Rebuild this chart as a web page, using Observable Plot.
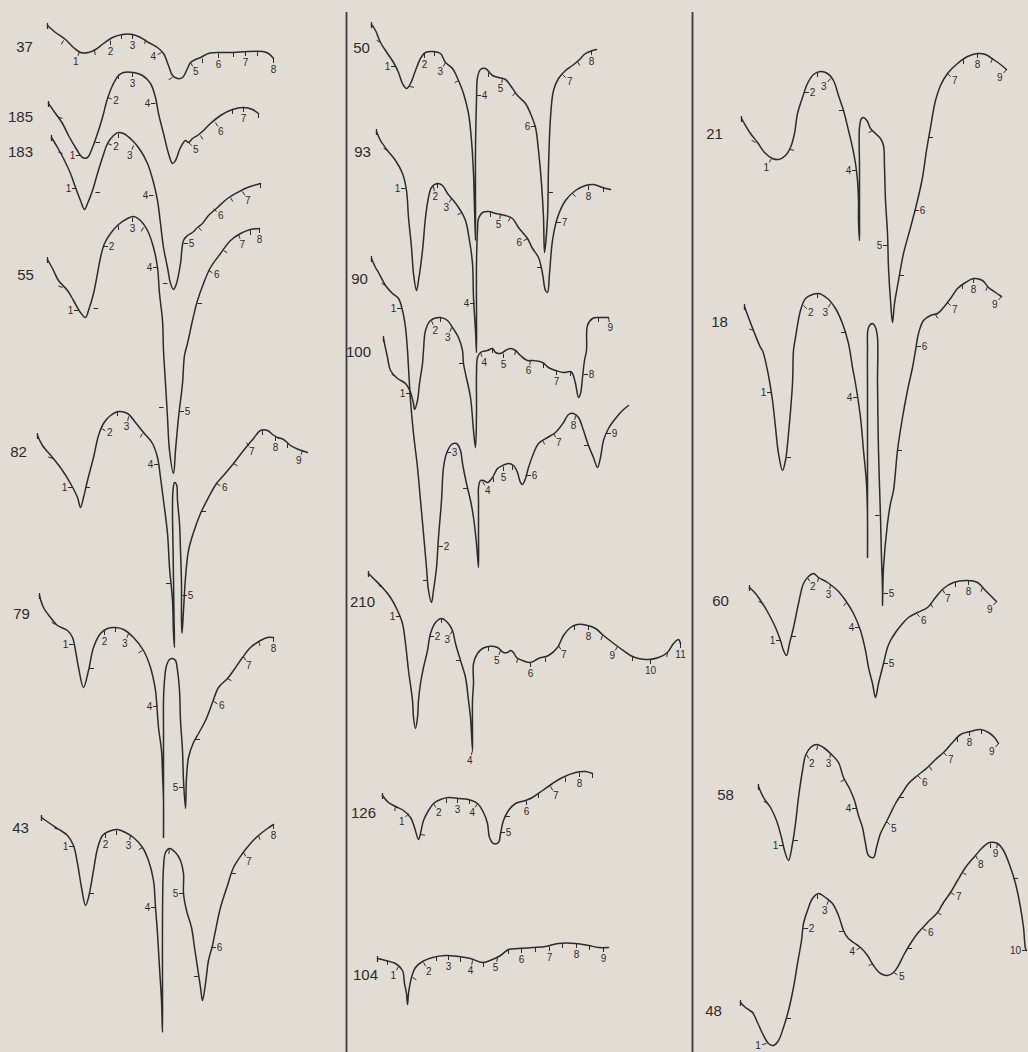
<!DOCTYPE html>
<html><head><meta charset="utf-8">
<script src="https://cdn.jsdelivr.net/npm/d3@7"></script>
<script src="https://cdn.jsdelivr.net/npm/@observablehq/plot@0.6"></script>
<style>html,body{margin:0;padding:0;background:#e1ddd5;}</style>
</head><body><div id="chart"></div>
<script>
// ---- Column 1 ----
const c37 = [[47,25],[55,32],[65,39],[73,47],[80,52],[88,52],[95,49],[103,43],[112,37],[122,34],[132,34],[140,37],[148,42],[157,47],[163,53],[168,65],[172,75],[177,78],[182,77],[187,68],[190,62],[195,59],[200,57],[208,53],[220,52],[233,52],[247,51],[262,51],[268,53],[273,58]];
const t37 = [[63,40,120,""],[79,51,110,"1"],[94,50,80,""],[110,40,90,"2"],[121,34,90,""],[132,34,90,"3"],[145,39,100,""],[161,52,150,"4"],[172,77,150,""],[190,62,60,"5"],[202,58,90,""],[218,53,90,"6"],[233,52,90,""],[245,51,90,"7"],[257,51,90,""],[273,58,90,"8"]];
const c185 = [[48,103],[55,113],[62,123],[68,135],[75,147],[82,157],[87,157],[92,147],[97,133],[102,117],[107,98],[112,85],[118,75],[123,72],[133,72],[142,75],[150,83],[155,97],[158,113],[163,133],[168,153],[172,163],[175,160],[180,147],[185,140],[188,142],[192,138],[197,135],[203,130],[210,123],[220,115],[232,109],[243,107],[252,109],[258,113]];
const t185 = [[62,118,200,""],[80,155,180,"1"],[95,142,0,""],[107,97,20,"2"],[118,74,90,""],[132,72,90,"3"],[155,103,180,"4"],[188,142,45,"5"],[200,135,60,""],[215,122,60,"6"],[232,109,90,""],[243,107,90,"7"],[258,113,90,""]];
const c183 = [[51,137],[57,147],[63,158],[70,173],[75,187],[80,200],[84,209],[87,203],[92,190],[97,173],[102,157],[107,143],[113,135],[118,132],[123,133],[132,140],[140,150],[147,163],[153,182],[157,200],[160,223],[163,247],[167,267],[170,283],[173,289],[176,283],[180,263],[183,240],[187,235],[192,232],[197,227],[202,223],[208,215],[217,207],[227,198],[237,192],[247,187],[260,183]];
const t183 = [[62,153,200,""],[76,188,180,"1"],[95,192,0,""],[107,143,20,"2"],[118,133,90,""],[133,145,110,"3"],[153,195,180,"4"],[167,283,180,""],[183,243,0,"5"],[198,227,45,""],[213,208,45,"6"],[230,197,60,""],[242,191,60,"7"],[260,183,90,""]];
const c55 = [[47,259],[52,268],[58,280],[67,290],[73,300],[80,312],[85,317],[88,310],[93,293],[97,273],[100,257],[104,243],[110,233],[118,224],[127,218],[133,216],[140,220],[147,230],[153,247],[157,267],[159,293],[162,320],[163,350],[165,383],[167,417],[169,450],[173,473],[175,450],[178,417],[182,383],[184,355],[187,343],[192,320],[197,300],[203,283],[210,267],[220,253],[230,240],[240,233],[250,229],[259,228]];
const t55 = [[62,287,200,""],[78,310,180,"1"],[93,308,0,""],[103,246,0,"2"],[118,225,90,""],[132,217,90,"3"],[143,227,120,""],[157,267,180,"4"],[163,407,180,""],[179,411,0,"5"],[197,303,0,""],[208,270,30,"6"],[223,250,30,""],[238,234,70,"7"],[250,230,90,""],[259,228,90,"8"]];
const c82 = [[37,435],[42,445],[52,457],[62,470],[70,483],[77,497],[80,507],[83,497],[87,480],[93,457],[98,435],[103,423],[110,415],[118,411],[127,413],[135,422],[143,432],[152,443],[157,457],[160,477],[163,500],[167,533],[169,567],[172,600],[173,633],[174,647],[173.5,615],[173,580],[172.5,545],[172,510],[172.5,490],[174,482],[176,484],[177,500],[179,523],[180,550],[181,583],[181,620],[181.5,633],[183,610],[185,577],[188,550],[193,532],[200,513],[208,497],[216,483],[223,475],[233,463],[243,450],[253,438],[260,430],[267,430],[272,434],[277,437],[283,439],[290,445],[298,449],[307,452]];
const t82 = [[52,458,200,""],[72,487,180,"1"],[85,487,0,""],[101,428,30,"2"],[117,411,90,""],[128,416,100,"3"],[142,433,120,""],[158,464,180,"4"],[170,583,180,""],[182,595,0,"5"],[201,511,0,""],[216,483,30,"6"],[233,463,30,""],[246,442,60,"7"],[262,430,90,""],[275,436,90,"8"],[287,443,90,""],[302,450,110,"9"]];
const c79 = [[39,595],[43,607],[50,617],[57,625],[67,630],[72,637],[75,650],[78,667],[83,687],[88,670],[93,647],[100,633],[107,628],[115,627],[123,629],[133,637],[143,650],[150,667],[155,690],[156,700],[158,727],[161,750],[162,773],[163,800],[163,837],[163,790],[163,760],[163,730],[163,700],[164,680],[166,665],[169,659],[172,658],[175,660],[177,670],[179,690],[180,720],[182,750],[183,780],[185,808],[186,777],[188,757],[193,742],[198,733],[205,720],[212,702],[218,687],[227,678],[233,670],[242,657],[250,647],[260,640],[267,637],[273,637]];
const t79 = [[55,624,210,""],[73,644,180,"1"],[89,668,0,""],[104,630,90,"2"],[115,627,90,""],[128,633,110,"3"],[142,650,150,""],[157,706,180,"4"],[183,787,180,"5"],[195,739,0,""],[213,701,30,"6"],[227,678,30,""],[243,656,60,"7"],[258,641,70,""],[273,637,90,"8"]];
const c43 = [[41,817],[48,822],[57,828],[67,835],[73,845],[77,863],[81,887],[85,905],[88,897],[93,870],[97,848],[102,835],[108,831],[117,829],[125,832],[133,837],[142,847],[148,860],[153,880],[155,907],[157,933],[159,967],[161,1000],[162,1032],[162,983],[162,917],[163,867],[165,852],[169,848],[175,852],[180,860],[183,873],[183,893],[186,910],[191,927],[194,947],[197,967],[200,987],[202,1000],[205,983],[208,960],[212,945],[215,930],[220,907],[227,885],[233,867],[242,853],[250,843],[258,835],[267,828],[273,824]];
const t43 = [[58,829,200,""],[73,846,180,"1"],[89,893,0,""],[105,833,90,"2"],[116,830,90,""],[130,835,100,"3"],[142,847,150,""],[155,907,180,"4"],[169,849,100,""],[183,893,180,"5"],[198,976,180,""],[211,947,0,"6"],[231,873,0,""],[243,852,60,"7"],[258,835,70,""],[273,824,90,"8"]];
// ---- Column 2 ----
const c50 = [[371,24],[375,30],[380,42],[387,53],[393,62],[398,72],[402,83],[406,88],[410,83],[415,70],[420,58],[425,52],[433,51],[440,53],[445,62],[452,68],[458,80],[463,93],[468,113],[471,140],[473,173],[474,207],[475,240],[475,207],[475,150],[476,100],[477,77],[480,69],[485,68],[489,72],[492,75],[498,77],[505,79],[510,85],[517,95],[525,103],[530,113],[535,127],[538,150],[541,183],[543,217],[544,252],[547,217],[548,167],[550,117],[553,90],[558,78],[565,70],[572,65],[578,60],[585,53],[592,50],[596,49]];
const t50 = [[380,42,210,""],[395,66,180,"1"],[409,86,10,""],[424,53,90,"2"],[434,51,90,""],[445,62,120,"3"],[458,80,150,""],[476,95,0,"4"],[488,72,90,""],[502,78,100,"5"],[515,92,130,""],[535,126,180,"6"],[548,192,0,""],[562,74,45,"7"],[577,61,60,""],[591,50,90,"8"]];
const c93 = [[376,131],[380,140],[387,150],[395,160],[402,173],[406,190],[408,217],[411,247],[413,273],[416,290],[418,280],[422,250],[425,217],[428,197],[431,187],[437,183],[442,185],[447,193],[453,200],[460,210],[465,220],[469,240],[472,263],[473,297],[475,330],[476,352],[476,313],[476,263],[477,230],[478,218],[482,212],[488,211],[495,213],[505,215],[512,218],[518,227],[527,238],[532,248],[538,257],[542,273],[545,290],[547,292],[549,273],[552,240],[557,217],[565,200],[575,190],[585,185],[593,184],[602,187],[610,189]];
const t93 = [[387,150,210,""],[405,188,180,"1"],[433,186,80,"2"],[437,183,90,""],[451,198,120,"3"],[461,212,150,""],[474,303,180,"4"],[490,212,90,""],[500,214,100,"5"],[510,217,120,""],[527,238,150,"6"],[541,267,180,""],[556,222,0,"7"],[572,193,45,""],[588,185,90,"8"],[603,187,90,""]];
const c90 = [[371,258],[375,267],[378,272],[385,285],[392,293],[398,298],[402,310],[405,327],[407,350],[408,367],[410,400],[413,433],[417,467],[420,500],[423,533],[426,567],[428,590],[431,602],[433,590],[436,567],[438,537],[441,500],[443,467],[446,453],[451,444],[456,443],[460,450],[462,463],[466,483],[470,500],[473,517],[476,543],[478,567],[478,533],[478,500],[478,487],[480,480],[483,480],[487,482],[492,477],[497,468],[502,465],[508,463],[513,465],[517,472],[520,482],[522,484],[525,478],[528,467],[533,453],[538,443],[547,437],[555,432],[563,422],[568,414],[573,413],[578,417],[583,430],[588,445],[593,457],[597,467],[600,457],[603,440],[608,428],[615,418],[622,410],[628,405]];
const t90 = [[385,285,210,""],[401,308,180,"1"],[427,580,180,""],[438,546,0,"2"],[446,452,0,"3"],[467,488,180,""],[482,481,60,"4"],[493,477,90,""],[503,466,90,"5"],[512,465,90,""],[526,475,0,"6"],[542,440,60,""],[553,433,60,"7"],[575,415,100,"8"],[588,445,180,""],[606,433,0,"9"]];
const c100 = [[383,338],[387,357],[390,370],[397,378],[405,383],[410,392],[413,403],[414,409],[417,400],[419,383],[422,363],[423,350],[425,330],[430,320],[440,317],[447,320],[452,327],[458,337],[462,350],[463,363],[470,397],[473,430],[475,447],[476,413],[476,373],[477,357],[480,352],[487,350],[492,348],[495,352],[500,353],[505,350],[510,348],[515,350],[520,355],[527,360],[532,360],[542,362],[548,367],[555,370],[563,372],[570,371],[572,373],[575,383],[578,397],[580,393],[582,377],[584,360],[586,350],[587,325],[592,318],[598,317],[608,317]];
const t100 = [[395,376,210,""],[410,393,180,"1"],[431,320,70,"2"],[440,317,90,""],[451,327,110,"3"],[463,363,180,""],[480,352,70,"4"],[492,348,90,""],[503,353,90,"5"],[515,350,100,""],[530,360,100,"6"],[543,363,90,""],[556,370,90,"7"],[570,371,90,""],[583,374,0,"8"],[598,317,90,""],[608,317,80,"9"]];
const c210 = [[368,573],[373,578],[382,587],[390,597],[397,610],[402,623],[405,643],[408,670],[412,700],[413,717],[415,728],[417,717],[418,700],[420,683],[423,667],[427,650],[430,633],[435,622],[441,618],[447,622],[452,630],[455,643],[460,660],[465,677],[468,700],[470,717],[472,750],[472,733],[472,700],[473,683],[473,663],[477,653],[482,648],[488,646],[497,647],[503,652],[507,652],[510,650],[513,652],[516,657],[522,660],[530,662],[538,658],[548,655],[557,647],[563,635],[570,627],[577,624],[587,625],[595,628],[603,635],[612,642],[620,648],[630,655],[638,658],[648,659],[658,657],[667,652],[673,643],[678,639],[680,643]];
const t210 = [[382,587,210,""],[400,616,180,"1"],[429,636,0,"2"],[441,618,90,""],[452,630,120,"3"],[460,660,180,""],[472,750,105,"4"],[488,646,90,""],[500,650,110,"5"],[517,658,100,""],[530,662,90,"6"],[545,657,90,""],[558,645,60,"7"],[574,625,90,""],[588,625,90,"8"],[602,635,110,""],[617,646,120,"9"],[632,656,90,""],[650,659,90,"10"],[667,652,100,""],[680,643,90,"11"]];
const c126 = [[382,795],[388,802],[395,806],[403,810],[410,817],[414,827],[418,839],[420,833],[423,820],[428,810],[433,803],[440,799],[448,797],[458,798],[468,799],[477,803],[483,812],[487,823],[489,837],[493,843],[498,842],[500,833],[503,820],[508,810],[515,803],[525,800],[532,797],[542,790],[552,783],[562,777],[575,772],[585,771],[592,773]];
const t126 = [[395,806,100,""],[408,813,130,"1"],[420,834,10,""],[433,803,60,"2"],[446,798,90,""],[457,798,90,"3"],[469,799,90,""],[477,803,120,"4"],[500,832,0,"5"],[505,816,0,""],[526,800,90,"6"],[538,793,90,""],[550,786,60,"7"],[565,777,90,""],[579,772,90,"8"],[592,773,90,""]];
const c104 = [[377,958],[385,960],[395,963],[402,970],[404,983],[406,993],[407,1004],[408,993],[411,977],[415,967],[422,961],[432,957],[445,955],[458,956],[470,958],[482,962],[492,959],[500,955],[508,949],[518,948],[532,947],[545,946],[558,943],[575,943],[588,945],[598,947],[608,947]];
const t104 = [[387,960,90,""],[398,966,120,"1"],[412,977,30,""],[423,962,60,"2"],[436,956,90,""],[448,955,90,"3"],[460,957,90,""],[472,960,100,"4"],[483,962,90,""],[497,957,100,"5"],[508,949,90,""],[521,948,90,"6"],[535,947,90,""],[549,946,90,"7"],[562,943,90,""],[576,943,90,"8"],[589,945,90,""],[603,947,90,"9"]];
// ---- Column 3 ----
const c21 = [[741,118],[745,125],[750,133],[757,142],[764,152],[772,158],[778,159],[785,155],[790,147],[794,133],[797,113],[802,97],[807,83],[813,74],[820,71],[827,73],[833,80],[838,95],[843,110],[848,130],[852,147],[855,163],[857,180],[858,200],[858,220],[859,240],[859,217],[859,167],[859,127],[861,118],[863,117],[867,121],[870,128],[875,133],[880,138],[883,145],[884,167],[885,200],[887,233],[888,267],[890,300],[892,322],[894,303],[898,280],[903,253],[910,227],[917,200],[922,177],[926,150],[930,127],[935,100],[940,85],[947,73],[957,63],[967,56],[977,53],[985,54],[993,59],[1000,64],[1006,69]];
const t21 = [[755,142,210,""],[771,158,120,"1"],[789,149,10,""],[804,92,0,"2"],[817,72,90,""],[830,78,130,"3"],[843,110,180,""],[856,170,180,"4"],[872,130,150,""],[887,245,180,"5"],[899,275,0,""],[914,210,0,"6"],[928,137,0,""],[947,73,45,"7"],[963,59,90,""],[977,53,90,"8"],[992,58,110,""],[1006,69,130,"9"]];
const c18 = [[744,306],[748,317],[753,330],[760,347],[762,350],[767,370],[772,400],[775,427],[778,453],[782,470],[785,460],[788,433],[792,383],[793,350],[795,337],[800,310],[805,298],[812,294],[818,293],[827,298],[835,308],[842,323],[848,343],[852,367],[855,383],[860,417],[863,450],[866,483],[867,517],[867,557],[867,517],[867,450],[867,383],[867,350],[868,327],[872,323],[875,327],[877,337],[877,383],[878,450],[880,517],[881,557],[882,590],[882,605],[883,567],[887,523],[890,503],[893,490],[897,450],[902,417],[907,390],[912,367],[915,350],[918,333],[923,320],[930,315],[937,313],[943,307],[950,298],[957,288],[965,282],[973,278],[982,280],[988,287],[995,292],[1001,296]];
const t18 = [[753,330,200,""],[771,392,180,"1"],[786,457,0,""],[803,305,45,"2"],[817,293,90,""],[830,303,120,"3"],[845,332,180,""],[857,397,180,"4"],[879,515,180,""],[883,593,0,"5"],[897,450,0,""],[916,346,0,"6"],[935,314,60,""],[947,302,45,"7"],[962,284,90,""],[973,278,90,"8"],[987,286,110,""],[1001,296,130,"9"]];
const c60 = [[749,587],[755,593],[762,603],[768,613],[775,627],[780,640],[783,650],[786,655],[789,643],[793,627],[798,603],[803,583],[808,576],[813,573],[818,577],[827,582],[837,590],[845,600],[853,613],[860,630],[865,650],[868,667],[872,683],[875,697],[878,683],[883,663],[887,647],[890,640],[895,632],[902,623],[908,617],[917,612],[927,607],[935,597],[943,588],[953,582],[967,580],[977,582],[985,590],[992,597],[996,601]];
const t60 = [[762,603,210,""],[780,640,180,"1"],[791,636,0,""],[807,577,60,"2"],[818,577,100,""],[830,584,100,"3"],[846,602,130,""],[859,627,180,"4"],[883,663,0,"5"],[895,632,120,""],[916,613,45,"6"],[930,603,60,""],[942,589,60,"7"],[955,582,90,""],[968,580,90,"8"],[982,587,110,""],[996,601,130,"9"]];
const c58 = [[758,786],[763,797],[770,807],[776,820],[781,837],[784,850],[788,860],[792,843],[795,823],[798,797],[802,770],[805,755],[810,747],[816,744],[823,747],[832,755],[838,762],[843,777],[849,788],[854,800],[858,815],[862,827],[865,843],[868,855],[873,857],[876,847],[880,833],[885,823],[890,813],[895,803],[902,792],[908,783],[917,775],[927,767],[935,759],[943,752],[952,742],[960,734],[970,731],[980,729],[988,732],[994,737],[998,743]];
const t58 = [[767,803,210,""],[783,845,180,"1"],[793,840,0,""],[806,754,60,"2"],[817,745,100,""],[830,753,100,"3"],[844,779,150,""],[856,808,180,"4"],[886,821,45,"5"],[899,797,0,""],[917,775,45,"6"],[929,766,60,""],[943,752,45,"7"],[957,737,90,""],[969,731,90,"8"],[981,729,90,""],[998,743,130,"9"]];
const c48 = [[740,1002],[745,1007],[752,1012],[757,1022],[762,1033],[768,1043],[773,1045],[778,1040],[783,1027],[788,1010],[793,987],[797,963],[801,940],[803,923],[807,910],[812,898],[818,893],[825,897],[832,903],[838,915],[843,930],[847,937],[853,942],[860,947],[867,955],[873,965],[880,973],[887,975],[893,972],[898,965],[903,955],[910,943],[917,933],[927,922],[937,912],[943,902],[950,892],[957,880],[965,867],[975,855],[982,847],[989,842],[997,843],[1003,850],[1010,867],[1015,883],[1020,907],[1023,927],[1025,948],[1026,950]];
const t48 = [[753,1012,200,""],[766,1043,165,"1"],[786,1018,0,""],[803,928,0,"2"],[817,894,90,""],[828,900,110,"3"],[843,931,180,""],[860,947,150,"4"],[872,963,150,""],[893,972,30,"5"],[907,948,0,""],[922,928,30,"6"],[937,912,30,""],[950,892,30,"7"],[962,872,30,""],[975,855,60,"8"],[990,843,90,""],[997,843,100,"9"],[1013,878,0,""],[1026,950,180,"10"]];

// ---- Specimen numbers and their label positions ----
const specimenIds = ["37","185","183","55","82","79","43","50","93","90","100","210","126","104","21","18","60","58","48"];
const specimenLabelX = [24,20,20,25,18,21,20,361,362,359,358,362,363,365,714,719,720,725,713];
const specimenLabelY = [47,117,152,275,452,614,828,48,152,279,352,602,813,975,134,322,601,795,1011];
const curvePoints = [c37,c185,c183,c55,c82,c79,c43,c50,c93,c90,c100,c210,c126,c104,c21,c18,c60,c58,c48];
const curveTicks = [t37,t185,t183,t55,t82,t79,t43,t50,t93,t90,t100,t210,t126,t104,t21,t18,t60,t58,t48];
const dividerX = [346, 692];

// ---- Build tables ----
const lineRows = curvePoints.flatMap((pts, i) => pts.map(([x, y]) => ({id: specimenIds[i], x, y})));
const startRows = curvePoints.map((pts, i) => ({id: specimenIds[i], x: pts[0][0], y: pts[0][1]}));
const tickRows = curveTicks.flatMap((ts, i) => ts.map(([x, y, a, label]) => ({id: specimenIds[i], x, y, a, label})));
const labelRows = tickRows.filter(d => d.label);
const specimenRows = specimenIds.map((id, i) => ({id, x: specimenLabelX[i], y: specimenLabelY[i]}));

const rad = d => d.a * Math.PI / 180;
const TL = 4.5;
const labDist = d => 8 + 3 * Math.abs(Math.sin(rad(d))) + (d.label.length - 1) * 3 * Math.abs(Math.cos(rad(d)));
const ink = "#2b2b2b";
const font = "Liberation Sans, Arial, sans-serif";

const chart = Plot.plot({
  width: 1028,
  height: 1052,
  margin: 0,
  x: {domain: [0, 1028], axis: null},
  y: {domain: [0, 1052], reverse: true, axis: null},
  style: {background: "#e1ddd5"},
  marks: [
    Plot.ruleX(dividerX, {y1: 12, y2: 1052, stroke: "#3a3a3a", strokeWidth: 1.8}),
    Plot.line(lineRows, {x: "x", y: "y", z: "id", curve: "catmull-rom", stroke: ink, strokeWidth: 1.5, strokeLinejoin: "round"}),
    Plot.link(tickRows, {
      x1: "x", y1: "y",
      x2: d => d.x + Math.cos(rad(d)) * TL,
      y2: d => d.y + Math.sin(rad(d)) * TL,
      stroke: ink, strokeWidth: 1
    }),
    Plot.link(startRows, {x1: "x", x2: "x", y1: d => d.y - 2.5, y2: d => d.y + 3.5, stroke: ink, strokeWidth: 1.3}),
    Plot.text(labelRows, {
      x: d => d.x + Math.cos(rad(d)) * labDist(d),
      y: d => d.y + Math.sin(rad(d)) * labDist(d),
      text: "label", fontSize: 10, fill: ink, fontFamily: font
    }),
    Plot.text(specimenRows, {x: "x", y: "y", text: "id", fontSize: 15, fill: ink, fontFamily: font})
  ]
});
document.getElementById("chart").appendChild(chart);
</script>
</body></html>
